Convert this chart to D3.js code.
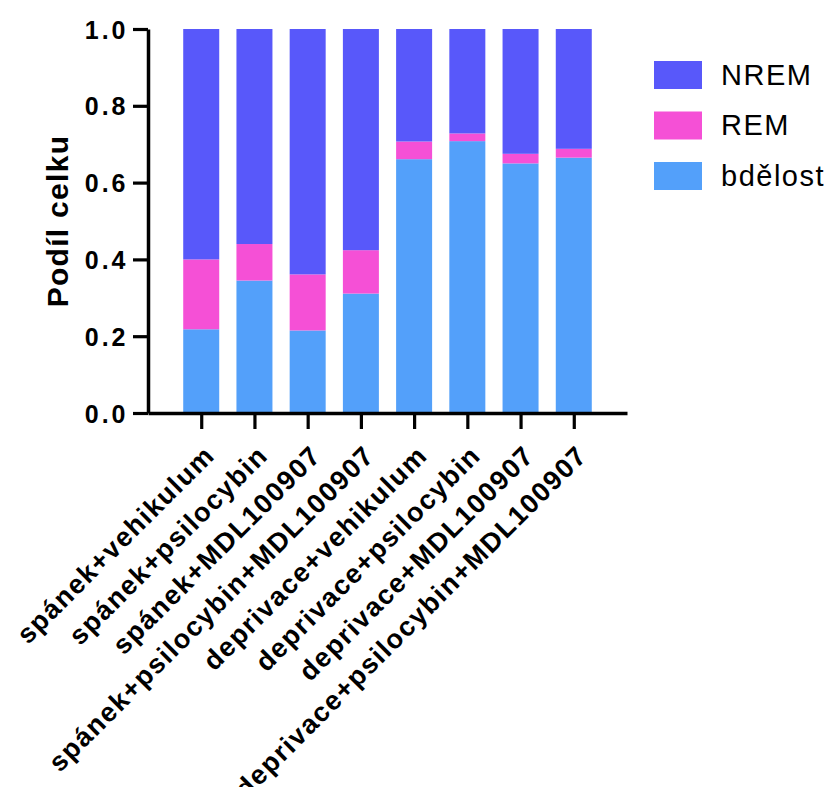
<!DOCTYPE html>
<html>
<head>
<meta charset="utf-8">
<script src="https://cdn.jsdelivr.net/npm/d3@7"></script>
<style>
  html, body { margin: 0; padding: 0; background: #fff; }
  svg { display: block; }
  text { font-family: "Liberation Sans", Arial, Helvetica, sans-serif; }
</style>
</head>
<body>
<svg id="chart" width="824" height="787"></svg>
<script>
// ---- data ----
const categories = [
  "spánek+vehikulum",
  "spánek+psilocybin",
  "spánek+MDL100907",
  "spánek+psilocybin+MDL100907",
  "deprivace+vehikulum",
  "deprivace+psilocybin",
  "deprivace+MDL100907",
  "deprivace+psilocybin+MDL100907"
];
const bdelost = [0.218, 0.345, 0.215, 0.311, 0.661, 0.708, 0.650, 0.665];
const rem     = [0.182, 0.095, 0.146, 0.113, 0.046, 0.020, 0.025, 0.023];
const nrem    = [0.600, 0.560, 0.639, 0.576, 0.293, 0.272, 0.325, 0.312];
const seriesNames = ["bdělost", "REM", "NREM"];
const legendOrder = ["NREM", "REM", "bdělost"];
const yTicks = [0, 0.2, 0.4, 0.6, 0.8, 1.0];
const yTitle = "Podíl celku";

// ---- styles ----
const colors = { "NREM": "#5858fa", "REM": "#f550d6", "bdělost": "#53a0fa" };

const svg = d3.select("#chart");

const x = d3.scalePoint().domain(categories).range([148, 627]).padding(1);
const y = d3.scaleLinear().domain([0, 1]).range([413, 29]);
const barW = 36;

const table = categories.map((c, i) => ({
  cat: c, "bdělost": bdelost[i], "REM": rem[i], "NREM": nrem[i]
}));
const stacked = d3.stack().keys(seriesNames)(table);

// bars
svg.append("g").selectAll("g")
  .data(stacked).join("g")
  .attr("fill", d => colors[d.key])
  .selectAll("rect")
  .data(d => d).join("rect")
  .attr("x", d => x(d.data.cat) - barW / 2)
  .attr("width", barW)
  .attr("y", d => y(d[1]))
  .attr("height", d => y(d[0]) - y(d[1]));

// y axis
const yAxis = svg.append("g")
  .attr("transform", "translate(148,0)")
  .call(d3.axisLeft(y).tickValues(yTicks).tickFormat(d3.format(".1f"))
        .tickSize(15).tickSizeOuter(0).tickPadding(4.5));
yAxis.select(".domain").attr("stroke", "#000").attr("stroke-width", 3.5);
yAxis.selectAll(".tick line").attr("stroke", "#000").attr("stroke-width", 3.2);
yAxis.selectAll(".tick text")
  .attr("fill", "#000")
  .style("font-size", "25px").style("font-weight", "bold")
  .style("letter-spacing", "3px")
  .attr("dy", "0.36em");

// x axis
const xAxis = svg.append("g")
  .attr("transform", "translate(0,413)")
  .call(d3.axisBottom(x).tickSize(16).tickSizeOuter(0));
xAxis.select(".domain").attr("stroke", "#000").attr("stroke-width", 3.5);
xAxis.selectAll(".tick line").attr("stroke", "#000").attr("stroke-width", 3.2);
xAxis.selectAll(".tick text")
  .attr("fill", "#000")
  .style("font-size", "27px").style("font-weight", "bold")
  .style("letter-spacing", "1.5px")
  .attr("text-anchor", "end")
  .attr("x", 0).attr("y", 0).attr("dy", 0)
  .attr("transform", "translate(14.5,44) rotate(-45)");

// y title
svg.append("text")
  .attr("transform", "translate(68,221) rotate(-90)")
  .attr("text-anchor", "middle")
  .style("font-size", "30px").style("font-weight", "bold")
  .style("letter-spacing", "1.3px")
  .attr("fill", "#000")
  .text(yTitle);

// legend
const lg = svg.append("g");
legendOrder.forEach((k, i) => {
  const yy = 61 + i * 50.5;
  lg.append("rect").attr("x", 654).attr("y", yy).attr("width", 48).attr("height", 28)
    .attr("fill", colors[k]);
  lg.append("text").attr("x", 721).attr("y", yy + 23.5)
    .style("font-size", "29px").style("letter-spacing", "1.5px")
    .attr("fill", "#000").text(k);
});
</script>
</body>
</html>
